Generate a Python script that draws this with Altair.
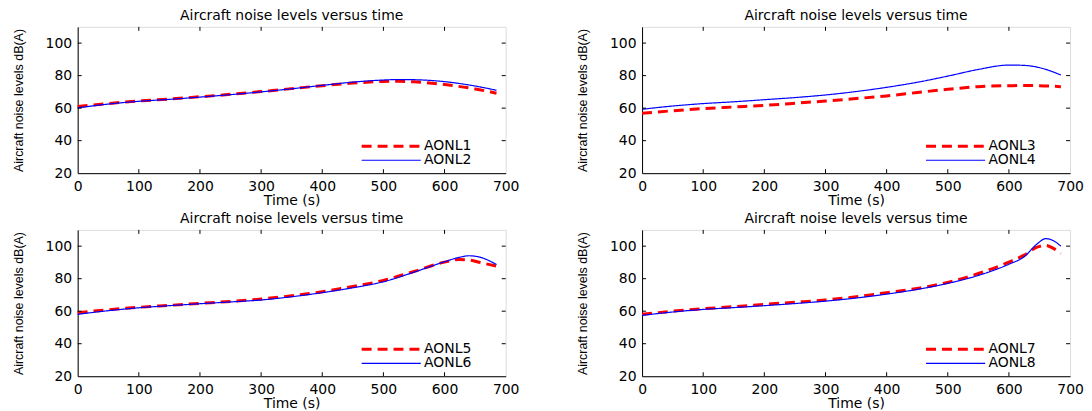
import altair as alt
import pandas as pd

TITLE = "Aircraft noise levels versus time"
X_LABEL = "Time (s)"
Y_LABEL = "Aircraft noise levels dB(A)"
X_TICKS = [0, 100, 200, 300, 400, 500, 600, 700]
Y_TICKS = [20, 40, 60, 80, 100]
X_DOMAIN = [0, 700]
Y_DOMAIN = [20, 110]

# Panel 1
T1 = [0, 50, 100, 150, 200, 250, 300, 350, 400, 450, 500, 525, 550, 600, 650, 685]
AONL1 = [61.0, 62.8, 64.4, 65.6, 67.0, 68.5, 70.2, 72.0, 73.8, 75.4, 76.4, 76.5, 76.2, 74.5, 71.8, 69.2]
AONL2 = [60.2, 62.5, 64.2, 65.4, 66.8, 68.3, 70.0, 71.9, 74.0, 76.0, 77.3, 77.6, 77.5, 76.3, 73.6, 71.0]

# Panel 2
T2 = [0, 50, 100, 150, 200, 250, 300, 350, 400, 450, 500, 550, 600, 625, 650, 685]
AONL3 = [56.8, 58.4, 59.7, 60.7, 61.7, 63.0, 64.4, 65.9, 67.5, 69.6, 71.6, 73.2, 73.8, 73.9, 73.8, 73.2]
AONL4 = [59.3, 61.3, 62.8, 63.9, 65.2, 66.5, 68.1, 70.2, 72.8, 75.9, 79.7, 83.8, 86.5, 86.3, 84.9, 80.4]

# Panel 3
T3 = [0, 50, 100, 150, 200, 250, 300, 350, 400, 450, 500, 550, 600, 625, 640, 660, 685]
AONL5 = [59.1, 60.9, 62.4, 63.6, 64.8, 66.0, 67.5, 69.5, 72.0, 75.2, 78.9, 84.4, 90.2, 91.8, 91.5, 89.8, 87.7]
AONL6 = [58.1, 60.3, 62.1, 63.4, 64.6, 65.7, 66.9, 68.9, 71.4, 74.4, 78.1, 84.0, 90.4, 93.2, 94.1, 93.0, 88.7]

# Panel 4
T4 = [0, 50, 100, 150, 200, 250, 300, 350, 400, 450, 500, 550, 600, 625, 645, 660, 672, 685]
AONL7 = [58.1, 60.0, 61.5, 62.8, 64.2, 65.5, 66.9, 68.9, 71.4, 74.0, 77.7, 83.2, 90.2, 94.5, 99.2, 100.5, 98.8, 95.5]
AONL8 = [57.4, 59.5, 61.1, 62.2, 63.4, 64.7, 66.2, 68.1, 70.5, 73.4, 77.1, 82.0, 88.9, 93.5, 101.0, 104.6, 103.5, 100.0]

W, H = 430, 147
FONT = "DejaVu Sans"
FS = 14
TICK = 4


def panel(t, a, b, na, nb):
    df = pd.DataFrame({
        "t": list(t) + list(t),
        "v": list(a) + list(b),
        "s": [na] * len(t) + [nb] * len(t),
    })
    xs = alt.Scale(domain=X_DOMAIN, nice=False, zero=False)
    ys = alt.Scale(domain=Y_DOMAIN, nice=False, zero=False)
    xaxis = alt.Axis(values=X_TICKS, title=X_LABEL, ticks=False, grid=False,
                     labelFont=FONT, labelFontSize=FS, labelColor="black",
                     titleFont=FONT, titleFontSize=FS, titleFontWeight="normal",
                     titleColor="black", labelPadding=6, titlePadding=0,
                     domainColor="black", labelFlush=False)
    yaxis = alt.Axis(values=Y_TICKS, title=Y_LABEL, ticks=False, grid=False,
                     labelFont=FONT, labelFontSize=FS, labelColor="black",
                     titleFont="Liberation Sans", titleFontSize=12.5,
                     titleFontWeight="normal", titleColor="black",
                     labelPadding=6, titlePadding=20, domainColor="black",
                     labelFlush=False)
    leg = alt.Legend(orient="none", legendX=308, legendY=113, title=None,
                     symbolType="M-6.6,0L6.6,0", symbolSize=81, labelOffset=26,
                     labelFont=FONT, labelFontSize=FS, labelColor="black",
                     padding=0, rowPadding=0)
    dom = [na, nb]
    lines = alt.Chart(df).mark_line(interpolate="monotone").encode(
        x=alt.X("t:Q", scale=xs, axis=xaxis),
        y=alt.Y("v:Q", scale=ys, axis=yaxis),
        color=alt.Color("s:N", scale=alt.Scale(domain=dom, range=["#ff0000", "#0000ff"]), legend=leg),
        strokeDash=alt.StrokeDash("s:N", scale=alt.Scale(domain=dom, range=[[10, 6], [1, 0]]), legend=leg),
        strokeWidth=alt.StrokeWidth("s:N", scale=alt.Scale(domain=dom, range=[3, 1.2]), legend=leg),
    )
    xt = pd.DataFrame({"t": X_TICKS[1:-1]})
    yt = pd.DataFrame({"v": Y_TICKS[1:]})
    bt = alt.Chart(xt).mark_rule(color="black", strokeWidth=1).encode(
        x=alt.X("t:Q", scale=xs, axis=xaxis), y=alt.value(H), y2=alt.value(H - TICK))
    tt = alt.Chart(xt).mark_rule(color="black", strokeWidth=1).encode(
        x=alt.X("t:Q", scale=xs, axis=xaxis), y=alt.value(0), y2=alt.value(TICK))
    lt = alt.Chart(yt).mark_rule(color="black", strokeWidth=1).encode(
        y=alt.Y("v:Q", scale=ys, axis=yaxis), x=alt.value(0), x2=alt.value(TICK))
    rt = alt.Chart(yt).mark_rule(color="black", strokeWidth=1).encode(
        y=alt.Y("v:Q", scale=ys, axis=yaxis), x=alt.value(W), x2=alt.value(W - TICK))
    return alt.layer(lines, bt, tt, lt, rt).properties(
        width=W, height=H,
        title=alt.Title(TITLE, font=FONT, fontSize=FS, fontWeight="normal",
                        color="black", offset=3),
    )


p1 = panel(T1, AONL1, AONL2, "AONL1", "AONL2")
p2 = panel(T2, AONL3, AONL4, "AONL3", "AONL4")
p3 = panel(T3, AONL5, AONL6, "AONL5", "AONL6")
p4 = panel(T4, AONL7, AONL8, "AONL7", "AONL8")

chart = alt.concat(p1, p2, p3, p4, columns=2, spacing={"row": 57, "column": 137},
                   bounds="flush").resolve_scale(
    color="independent", strokeDash="independent", strokeWidth="independent",
    x="independent", y="independent"
).resolve_legend(
    color="independent", strokeDash="independent", strokeWidth="independent"
).properties(
    padding={"left": 3, "top": 0, "right": 0, "bottom": 0}
).configure_view(stroke="black", strokeWidth=1).configure(background="white")

chart.save("out.html", embed_options={"renderer": "svg", "actions": False})
